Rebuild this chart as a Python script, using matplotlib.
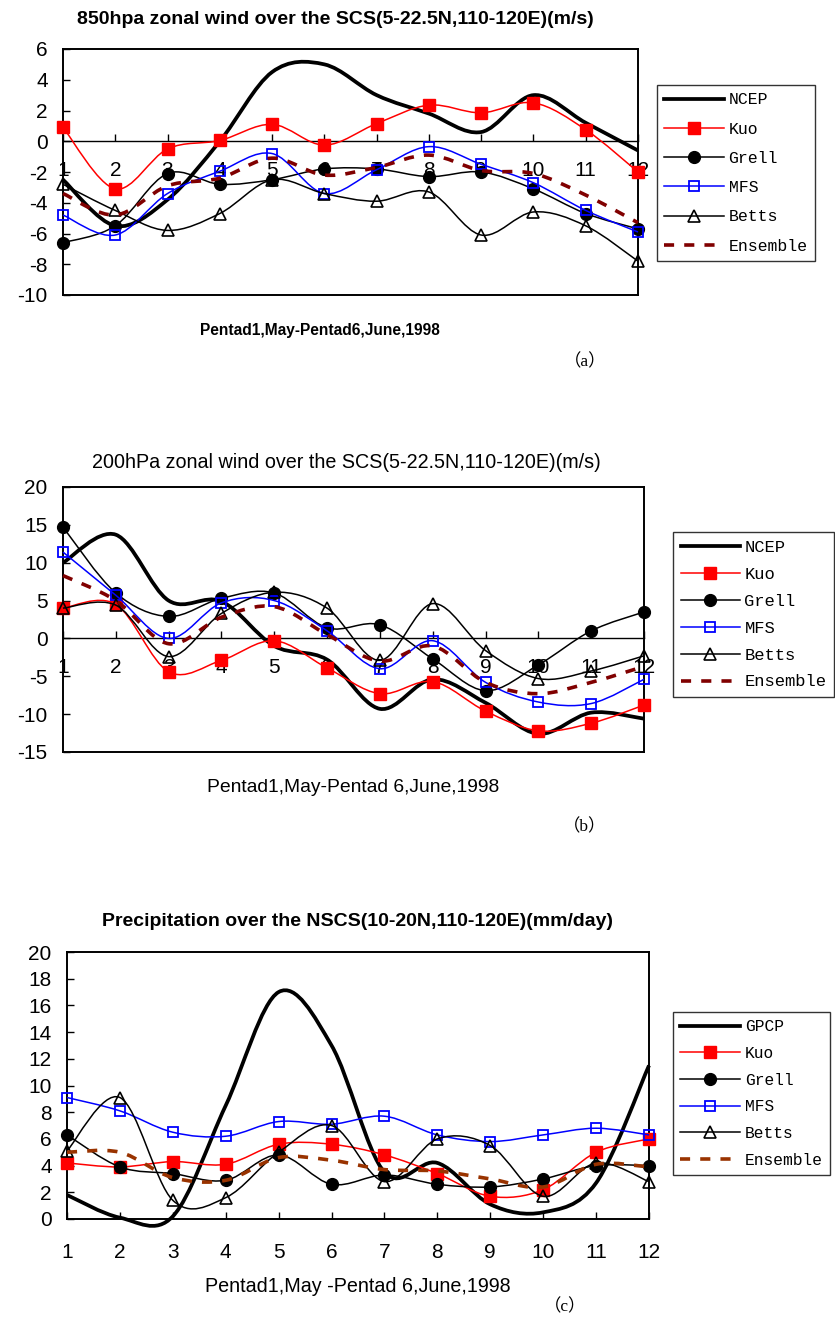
#!/usr/bin/env python3
"""
SCS monsoon onset 1998: 850hPa / 200hPa zonal wind and NSCS precipitation,
observations vs. four cumulus schemes and their ensemble (pentad means)
"""

import numpy as np
import matplotlib
matplotlib.use("Agg")
import matplotlib.pyplot as plt
from matplotlib.path import Path
from matplotlib.patches import PathPatch
from matplotlib.lines import Line2D

plt.rcParams['axes.unicode_minus'] = False
plt.rcParams['font.family'] = ['Liberation Sans', 'DejaVu Sans']

W, H = 835, 1317

pentads = list(range(1, 13))
series_names = ['Kuo', 'Grell', 'MFS', 'Betts', 'Ensemble']

# (a) 850hPa zonal wind (m/s)
u850_ncep = [-2.5, -5.5, -3.8, 0.0, 4.5, 5.0, 3.0, 1.8, 0.6, 3.0, 1.2, -0.6]
u850_kuo = [0.9, -3.1, -0.5, 0.05, 1.1, -0.25, 1.15, 2.35, 1.85, 2.5, 0.75, -2.0]
u850_grell = [-6.6, -5.5, -2.1, -2.8, -2.5, -1.8, -1.8, -2.3, -2.0, -3.1, -4.7, -5.7]
u850_mfs = [-4.8, -6.1, -3.4, -1.95, -0.8, -3.4, -1.85, -0.35, -1.5, -2.7, -4.5, -5.9]
u850_betts = [-2.8, -4.5, -5.8, -4.7, -2.5, -3.4, -3.9, -3.3, -6.1, -4.6, -5.5, -7.8]
u850_ens = [-3.4, -4.8, -2.9, -2.4, -1.1, -2.2, -1.7, -0.9, -1.9, -2.1, -3.5, -5.3]

# (b) 200hPa zonal wind (m/s)
u200_ncep = [10.0, 13.7, 5.0, 4.9, -1.0, -2.8, -9.3, -5.4, -8.5, -12.6, -9.8, -10.6]
u200_kuo = [4.0, 4.5, -4.4, -2.9, -0.3, -3.9, -7.3, -5.7, -9.6, -12.2, -11.2, -8.8]
u200_grell = [14.7, 6.0, 2.9, 5.3, 6.0, 1.4, 1.8, -2.7, -6.9, -3.5, 1.0, 3.5]
u200_mfs = [11.4, 5.7, 0.0, 4.7, 5.0, 1.0, -4.0, -0.3, -5.8, -8.4, -8.6, -5.4]
u200_betts = [4.0, 4.4, -2.4, 3.3, 6.1, 4.0, -2.9, 4.6, -1.6, -5.3, -4.3, -2.3]
u200_ens = [8.3, 5.0, -0.7, 2.8, 4.2, 0.5, -3.0, -1.0, -5.8, -7.3, -5.8, -3.7]

# (c) NSCS precipitation (mm/day)
pr_gpcp = [1.8, 0.1, 0.2, 8.5, 17.0, 13.0, 3.5, 4.2, 1.1, 0.5, 2.7, 11.5]
pr_kuo = [4.2, 3.9, 4.3, 4.1, 5.6, 5.6, 4.8, 3.4, 1.7, 2.2, 5.0, 6.0]
pr_grell = [6.3, 3.9, 3.4, 2.9, 4.8, 2.6, 3.3, 2.6, 2.4, 3.0, 4.0, 4.0]
pr_mfs = [9.1, 8.1, 6.5, 6.2, 7.3, 7.1, 7.7, 6.3, 5.8, 6.3, 6.8, 6.3]
pr_betts = [5.1, 9.1, 1.4, 1.6, 5.0, 7.0, 2.8, 6.0, 5.5, 1.7, 4.2, 2.8]
pr_ens = [5.0, 5.0, 3.1, 2.9, 4.6, 4.4, 3.7, 3.6, 3.0, 2.4, 4.1, 3.9]


def smooth_path(x, y):
    """Excel风格的平滑曲线 (Catmull-Rom -> Bezier)"""
    pts = np.column_stack([x, y]).astype(float)
    n = len(pts)
    verts = [pts[0]]
    codes = [Path.MOVETO]
    for i in range(n - 1):
        p_prev = pts[i - 1] if i > 0 else pts[i]
        p_next = pts[i + 2] if i + 2 < n else pts[i + 1]
        verts += [pts[i] + (pts[i + 1] - p_prev) / 6,
                  pts[i + 1] - (p_next - pts[i]) / 6,
                  pts[i + 1]]
        codes += [Path.CURVE4] * 3
    return Path(verts, codes)


def px_box(left, top, right, bottom):
    return [left / W, 1 - bottom / H, (right - left) / W, (bottom - top) / H]


def marker_style(name):
    if name == 'Kuo':
        return dict(marker='s', ms=8, mfc='red', mec='red')
    if name == 'Grell':
        return dict(marker='o', ms=8.5, mfc='black', mec='black')
    if name == 'MFS':
        return dict(marker='s', ms=7.5, mfc='none', mec='blue', mew=1.3)
    if name == 'Betts':
        return dict(marker='^', ms=8, mfc='none', mec='black', mew=1.2)
    return {}


line_colors = {'Kuo': 'red', 'Grell': 'black', 'MFS': 'blue', 'Betts': 'black'}
dash = (0, (2.8, 2.8))


def draw_panel(ax, obs_name, obs, models, ens_color, ylim, yticks, zero_axis,
               leg):
    x = pentads
    # 观测 (粗黑线)
    ax.add_patch(PathPatch(smooth_path(x, obs), fill=False, ec='black',
                           lw=2.7, zorder=3, clip_on=False))
    handles = [Line2D([], [], color='black', lw=2.7, label=obs_name)]
    for k, name in enumerate(series_names):
        vals = models[k]
        if name == 'Ensemble':
            ax.add_patch(PathPatch(smooth_path(x, vals), fill=False,
                                   ec=ens_color, lw=2.6, ls=dash,
                                   capstyle='butt', zorder=4 + k,
                                   clip_on=False))
            handles.append(Line2D([], [], color=ens_color, lw=2.6,
                                  ls=dash, dash_capstyle='butt', label=name))
            continue
        c = line_colors[name]
        ax.add_patch(PathPatch(smooth_path(x, vals), fill=False, ec=c,
                               lw=1.1, zorder=4 + k, clip_on=False))
        ax.plot(x, vals, ls='none', zorder=4.5 + k, clip_on=False,
                **marker_style(name))
        handles.append(Line2D([], [], color=c, lw=1.1, label=name,
                              **marker_style(name)))

    ax.set_xlim(1, 12)
    ax.set_ylim(*ylim)
    ax.set_yticks(yticks)
    ax.set_yticklabels([str(v) for v in yticks])
    ax.tick_params(axis='y', direction='in', length=5, width=1,
                   labelsize=15, pad=11)
    for sp in ax.spines.values():
        sp.set_linewidth(1.4)

    if zero_axis:
        # x轴放在0线上
        ax.set_xticks([])
        loc = (0 - ylim[0]) / (ylim[1] - ylim[0])
        sec = ax.secondary_xaxis(loc)
        sec.set_alignment('bottom')
        sec.set_xticks(pentads)
        sec.spines['bottom'].set_linewidth(1.0)
        sec.tick_params(direction='in', length=5, width=1, labelsize=15,
                        pad=14)
    else:
        ax.set_xticks(pentads)
        ax.tick_params(axis='x', direction='in', length=5, width=1,
                       labelsize=15, pad=17)

    lg = fig.legend(handles=handles, loc='upper left',
                    bbox_to_anchor=(leg['x'] / W, 1 - leg['y'] / H),
                    frameon=True, fancybox=False, edgecolor='black',
                    borderaxespad=0, handlelength=leg['hl'],
                    handletextpad=0.28, labelspacing=leg['ls'],
                    borderpad=0.45,
                    prop={'family': ['Liberation Mono', 'DejaVu Sans Mono'],
                          'size': leg['size']})
    lg.get_frame().set_linewidth(1.0)


fig = plt.figure(figsize=(W / 100, H / 100), dpi=100)

ax_a = fig.add_axes(px_box(63, 49, 638, 295))
draw_panel(ax_a, 'NCEP', u850_ncep,
           [u850_kuo, u850_grell, u850_mfs, u850_betts, u850_ens],
           '#800000', (-10, 6), list(range(-10, 7, 2)), True,
           dict(x=657, y=85, size=11.9, hl=3.6, ls=0.86))
fig.text(335 / W, 1 - 20 / H,
         '850hpa zonal wind over the SCS(5-22.5N,110-120E)(m/s)',
         ha='center', va='center', fontsize=14, fontweight='bold')
fig.text(320 / W, 1 - 330 / H, 'Pentad1,May-Pentad6,June,1998',
         ha='center', va='center', fontsize=11.2, fontweight='bold')

ax_b = fig.add_axes(px_box(63, 487, 644, 752))
draw_panel(ax_b, 'NCEP', u200_ncep,
           [u200_kuo, u200_grell, u200_mfs, u200_betts, u200_ens],
           '#800000', (-15, 20), list(range(-15, 21, 5)), True,
           dict(x=673, y=532, size=12.3, hl=3.45, ls=0.7))
fig.text(346 / W, 1 - 462 / H,
         '200hPa zonal wind over the SCS(5-22.5N,110-120E)(m/s)',
         ha='center', va='center', fontsize=14.2)
fig.text(353 / W, 1 - 787 / H, 'Pentad1,May-Pentad 6,June,1998',
         ha='center', va='center', fontsize=13.9)

ax_c = fig.add_axes(px_box(67, 952, 649, 1219))
draw_panel(ax_c, 'GPCP', pr_gpcp,
           [pr_kuo, pr_grell, pr_mfs, pr_betts, pr_ens],
           '#993300', (0, 20), list(range(0, 21, 2)), False,
           dict(x=673, y=1012, size=11.7, hl=3.7, ls=0.72))
fig.text(358 / W, 1 - 922 / H,
         'Precipitation over the NSCS(10-20N,110-120E)(mm/day)',
         ha='center', va='center', fontsize=14, fontweight='bold')
fig.text(358 / W, 1 - 1287 / H, 'Pentad1,May -Pentad 6,June,1998',
         ha='center', va='center', fontsize=14.2)

# 子图编号 (全角括号)
sub = ['Liberation Serif', 'Noto Sans CJK SC', 'DejaVu Sans']
fig.text(585 / W, 1 - 362 / H, '（a）', ha='center', va='center',
         fontsize=12.5, family=sub)
fig.text(585 / W, 1 - 827 / H, '（b）', ha='center', va='center',
         fontsize=12.5, family=sub)
fig.text(565 / W, 1 - 1307 / H, '（c）', ha='center', va='center',
         fontsize=12.5, family=sub)

fig.savefig('out.png', dpi=100)
